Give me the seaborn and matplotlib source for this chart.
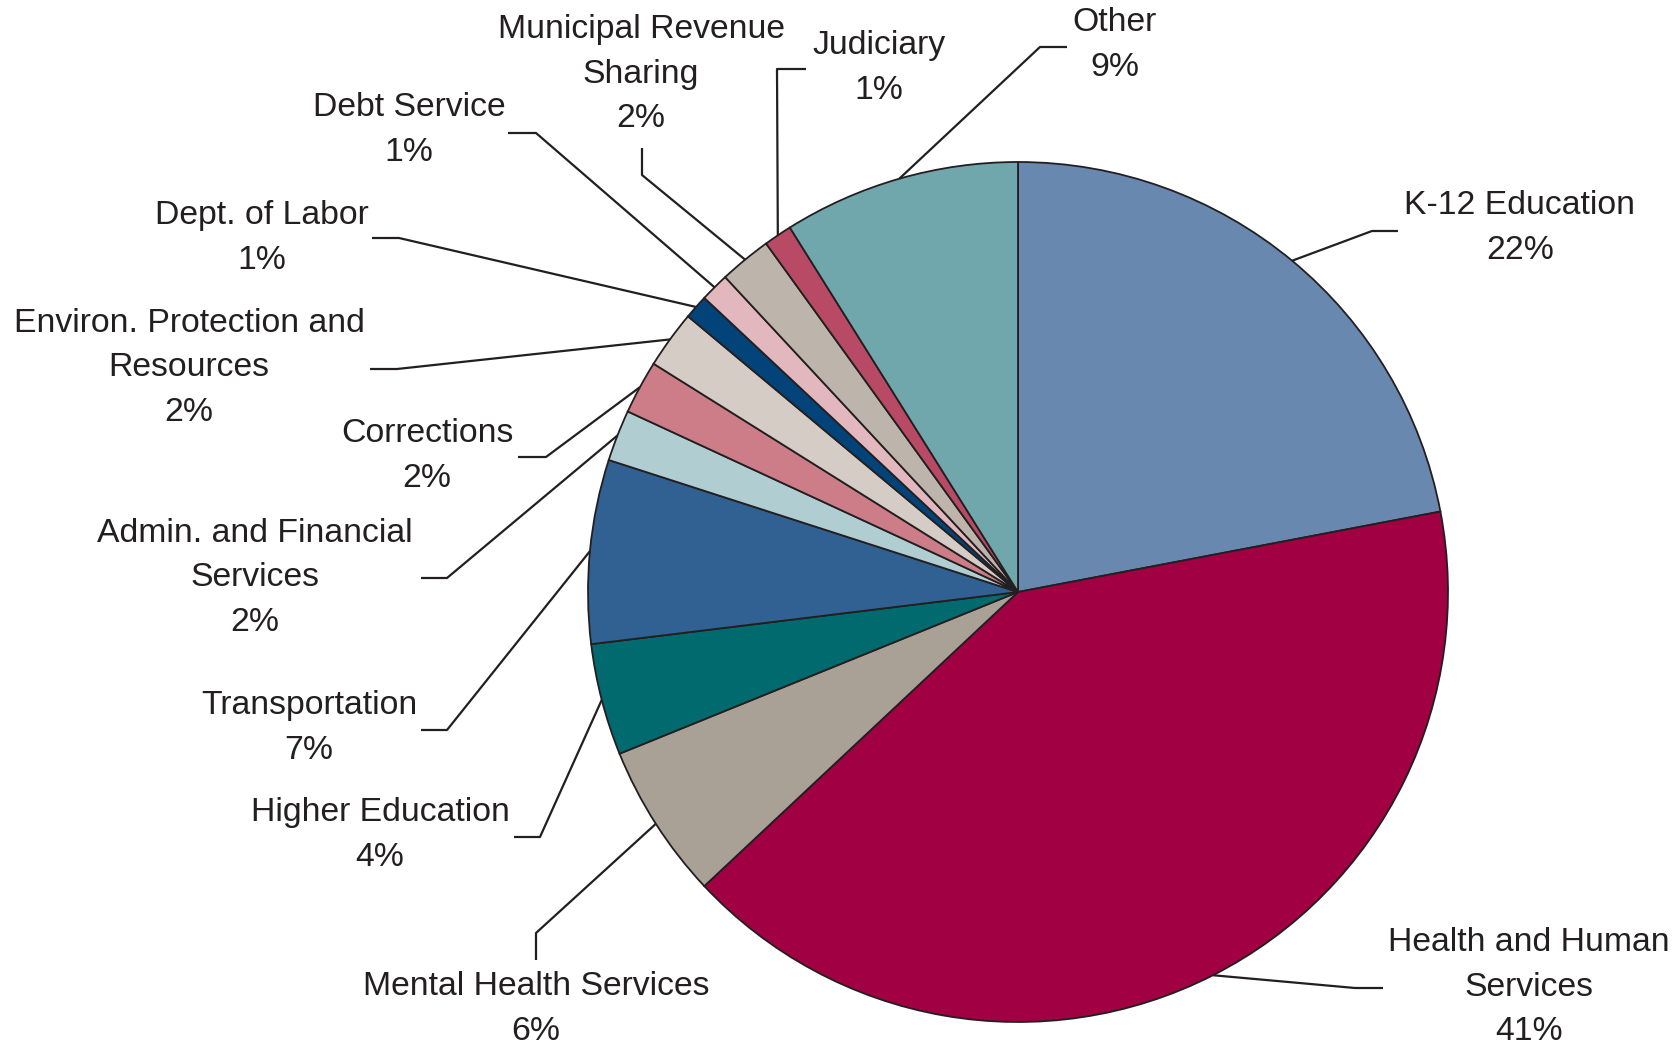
import numpy as np
import matplotlib
matplotlib.use("Agg")
import matplotlib.pyplot as plt
import seaborn as sns

sns.set_theme(style="white")
plt.rcParams['font.family'] = ['Liberation Sans', 'DejaVu Sans']

# Slices, clockwise from 12 o'clock
categories = ["K-12 Education", "Health and Human\nServices", "Mental Health Services",
              "Higher Education", "Transportation", "Admin. and Financial\nServices",
              "Corrections", "Environ. Protection and\nResources", "Dept. of Labor",
              "Debt Service", "Municipal Revenue\nSharing", "Judiciary", "Other"]
shares = [22.0, 41.0, 5.85, 4.2, 6.9, 1.93, 2.01, 2.17, 0.91, 1.09, 1.96, 1.06, 8.9]
colors = ["#6888B0", "#A10042", "#A9A096", "#006A6E", "#306192", "#B0CDD1", "#CD7D88",
          "#D5CCC6", "#024479", "#E3B7BE", "#BDB5AB", "#B84A66", "#70A7AD"]

W, H = 1678, 1048
cx, cy, r = 1018, 592, 430   # pie centre/radius in image pixels (y down)

# label layout in image pixels: text centre, elbow, end of leader
label_pos = [(1520, 228), (1529, 987), (536, 1009), (380, 835), (309, 728), (255, 578),
             (427, 456), (189, 368), (262, 238), (409, 130), (641, 74), (879, 68), (1115, 45)]
elbows = [(1372, 231), (1355, 988), (536, 933), (540, 837), (447, 730), (447, 578),
          (546, 457), (397, 369), (399, 238), (536, 133), (642, 175), (777, 69), (1040, 47)]
ends = [(1398, 231), (1383, 988), (536, 960), (514, 837), (421, 730), (421, 578),
        (518, 457), (370, 369), (372, 238), (508, 133), (642, 148), (806, 69), (1067, 47)]

fig = plt.figure(figsize=(W / 100, H / 100), dpi=100)
ax = fig.add_axes([0, 0, 1, 1])

wedges, _ = ax.pie(shares, colors=colors, startangle=90, counterclock=False,
                   radius=r, center=(cx, H - cy),
                   wedgeprops=dict(edgecolor="#231F20", linewidth=1.3))

ink = "#231F20"
for w, name, v, (tx, ty), (ex, ey), (nx, ny) in zip(wedges, categories, shares,
                                                   label_pos, elbows, ends):
    # leader starts on the rim at the middle of the slice
    mid = np.deg2rad((w.theta1 + w.theta2) / 2)
    sx = w.center[0] + w.r * np.cos(mid)
    sy = w.center[1] + w.r * np.sin(mid)
    ax.plot([sx, ex, nx], [sy, H - ey, H - ny], color=ink, lw=1.6, solid_capstyle="butt")
    ax.text(tx, H - ty, f"{name}\n{v:.0f}%", ha="center", va="center",
            multialignment="center", fontsize=24.3, color=ink, linespacing=1.56)

ax.set_xlim(0, W)
ax.set_ylim(0, H)
ax.set_aspect("equal")
ax.axis("off")

fig.savefig("out.png", dpi=100)
